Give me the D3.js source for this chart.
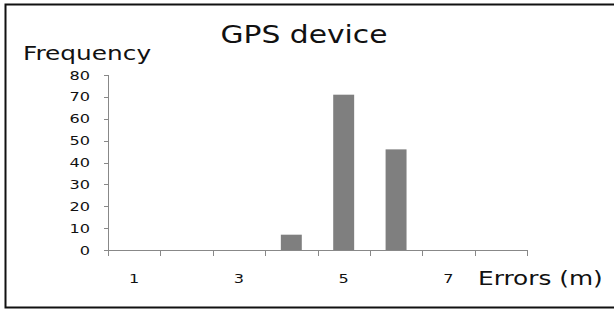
<!DOCTYPE html>
<html>
<head>
<meta charset="utf-8">
<script src="https://cdn.jsdelivr.net/npm/d3@7"></script>
<style>
  body { margin: 0; background: #fff; }
  svg { display: block; }
</style>
</head>
<body>
<div id="chart"></div>
<script>
// histogram data
const categories = ['1', '2', '3', '4', '5', '6', '7', '8'];
const frequency = [0, 0, 0, 7, 71, 46, 0, 0];
const shownLabels = ['1', '3', '5', '7'];
const yTicks = [0, 10, 20, 30, 40, 50, 60, 70, 80];

const W = 614, H = 312;
const stretch = 1.24; // text in the picture is drawn wide

const svg = d3.select('#chart')
  .append('svg')
  .attr('width', W)
  .attr('height', H);

// frame: top, left and bottom lines only
svg.append('path')
  .attr('d', 'M614,4.5 L5.5,4.5 L5.5,307.5 L614,307.5')
  .attr('fill', 'none')
  .attr('stroke', '#111')
  .attr('stroke-width', 2);

const x = d3.scaleBand()
  .domain(categories)
  .range([108, 527])
  .paddingInner(0.6)
  .paddingOuter(0.3);

const y = d3.scaleLinear()
  .domain([0, 80])
  .range([250, 75]);

function wideText(sel, px, py, str, size, anchor) {
  sel.append('text')
    .attr('transform', 'translate(' + px + ',' + py + ') scale(' + stretch + ',1)')
    .attr('text-anchor', anchor)
    .attr('font-family', 'DejaVu Sans, Verdana, sans-serif')
    .attr('font-size', size)
    .attr('fill', '#111')
    .text(str);
}

// bars
svg.selectAll('rect.bar')
  .data(frequency)
  .enter()
  .append('rect')
  .attr('class', 'bar')
  .attr('x', (d, i) => x(categories[i]))
  .attr('width', x.bandwidth())
  .attr('y', d => y(d))
  .attr('height', d => y(0) - y(d))
  .attr('fill', '#7f7f7f');

// y axis
const axisColor = '#888';
svg.append('line')
  .attr('x1', 108.5).attr('x2', 108.5)
  .attr('y1', y(80)).attr('y2', y(0))
  .attr('stroke', axisColor);
svg.selectAll('line.ytick')
  .data(yTicks)
  .enter()
  .append('line')
  .attr('class', 'ytick')
  .attr('x1', 104).attr('x2', 108.5)
  .attr('y1', d => Math.round(y(d)) + 0.5)
  .attr('y2', d => Math.round(y(d)) + 0.5)
  .attr('stroke', axisColor);
yTicks.forEach(function(t) {
  wideText(svg, 90, y(t) + 4.5, String(t), 13, 'end');
});

// x axis
svg.append('line')
  .attr('x1', 108).attr('x2', 527)
  .attr('y1', 250.5).attr('y2', 250.5)
  .attr('stroke', axisColor);
const xTickPos = d3.range(categories.length + 1).map(i => 108 + i * (419 / categories.length));
svg.selectAll('line.xtick')
  .data(xTickPos)
  .enter()
  .append('line')
  .attr('class', 'xtick')
  .attr('x1', d => Math.round(d) + 0.5).attr('x2', d => Math.round(d) + 0.5)
  .attr('y1', 250).attr('y2', 256)
  .attr('stroke', axisColor);
shownLabels.forEach(function(c) {
  wideText(svg, x(c) + x.bandwidth() / 2, 283, c, 13, 'middle');
});

// titles
wideText(svg, 304, 43, 'GPS device', 24, 'middle');
wideText(svg, 23, 60, 'Frequency', 20, 'start');
wideText(svg, 478, 285, 'Errors (m)', 20, 'start');
</script>
</body>
</html>
